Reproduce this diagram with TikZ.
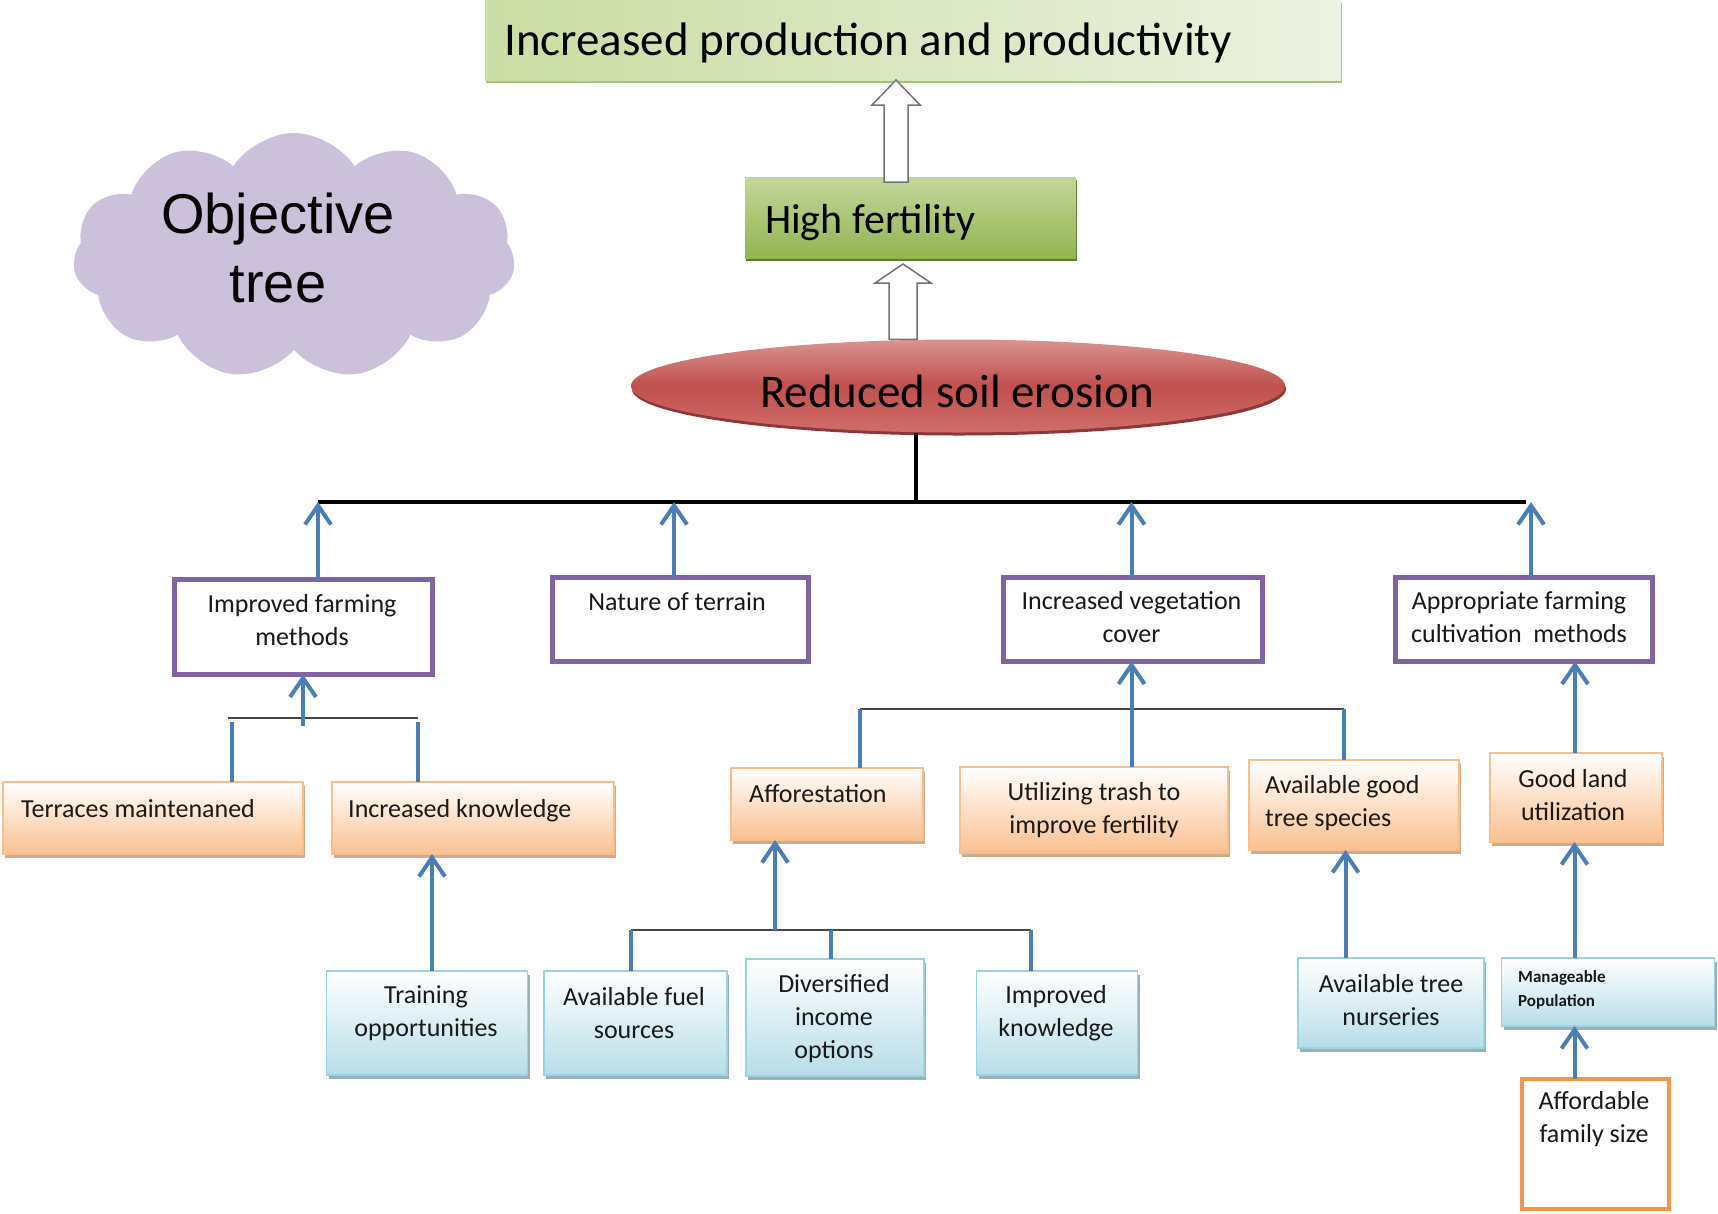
\documentclass[tikz,border=0pt]{standalone}
\usepackage{fontspec}
\setmainfont{Carlito}
\newfontfamily\cloudfont{Liberation Sans}
\usetikzlibrary{shapes.geometric,shapes.symbols,arrows.meta,shadows,calc}
\definecolor{purp}{HTML}{8064A2}
\definecolor{bluel}{HTML}{4A7EBB}
\definecolor{orfill}{HTML}{FAC090}
\definecolor{orbd}{HTML}{F9BE8E}
\definecolor{orshad}{HTML}{C9A27F}
\definecolor{blfill}{HTML}{B7DDE8}
\definecolor{blbd}{HTML}{9BD3E0}
\definecolor{blshad}{HTML}{8FA9B3}
\definecolor{lav}{HTML}{CCC1DA}
\definecolor{tgA}{HTML}{CADDA3}
\definecolor{tgB}{HTML}{ECF2E1}
\definecolor{tgS}{HTML}{A9C47A}
\definecolor{hfA}{HTML}{C3D79C}
\definecolor{hfB}{HTML}{93B44F}
\definecolor{hfS}{HTML}{5E7A2E}
\definecolor{elA}{HTML}{DA9391}
\definecolor{elM}{HTML}{C0504D}
\definecolor{elB}{HTML}{CF6E6B}
\definecolor{elS}{HTML}{8C3836}
\definecolor{afbd}{HTML}{F79646}
\begin{document}
\begin{tikzpicture}[x=1pt,y=-1pt,
  box/.style={rectangle, inner sep=0pt, outer sep=0pt},
  purplebox/.style={box, draw=purp, line width=4.5pt, fill=white},
  orangebox/.style={box, draw=orbd, line width=1.2pt, top color=white, bottom color=orfill,
     drop shadow={shadow xshift=2pt, shadow yshift=-4pt, fill=orshad, opacity=0.9}},
  bluebox/.style={box, draw=blbd, line width=1.2pt, top color=white, bottom color=blfill,
     drop shadow={shadow xshift=2pt, shadow yshift=-4pt, fill=blshad, opacity=0.9}},
  lbl/.style={inner sep=0pt, font=\fontsize{26}{33}\selectfont, align=center, text=black!90},
  bluearr/.style={draw=bluel, line width=4pt, -{Straight Barb[length=19pt,width=26pt]}},
  blueln/.style={draw=bluel, line width=4pt},
  graybar/.style={draw=black!72, line width=2.5pt},
  blackbar/.style={draw=black, line width=4.5pt},
  hollowarr/.style={draw=black!55, line width=1.5pt, fill=white, line join=miter}
]
\useasboundingbox (0,0) rectangle (1718,1213);

% ---------- top part ----------
\node[box, minimum width=856pt, minimum height=80pt, left color=tgA, right color=tgB,
      drop shadow={shadow xshift=1pt, shadow yshift=-3pt, fill=tgS, opacity=1}] (top) at (913,40) {};
\node[inner sep=0pt, anchor=base west, font=\fontsize{47}{56}\selectfont] (topt) at (504,55)
  {Increased production and productivity};

\node[box, minimum width=331pt, minimum height=81pt, top color=hfA, bottom color=hfB,
      drop shadow={shadow xshift=1pt, shadow yshift=-3pt, fill=hfS, opacity=1}] (hf) at (910.5,217.5) {};
\node[inner sep=0pt, anchor=base west, font=\fontsize{42}{50}\selectfont] (hft) at (765,233) {High fertility};

\node[ellipse, inner sep=0pt, minimum width=654pt, minimum height=93pt,
      top color=elA, bottom color=elB, middle color=elM,
      drop shadow={shadow xshift=1pt, shadow yshift=-3pt, fill=elS, opacity=1}] (ell) at (958,386) {};
\node[inner sep=0pt, anchor=base, font=\fontsize{47}{56}\selectfont] (ellt) at (957,407) {Reduced soil erosion};

\node[cloud, cloud puffs=11, cloud puff arc=115, aspect=1.75, fill=lav, draw=none,
      minimum width=442pt, minimum height=246pt, inner sep=0pt] (cloud) at (294,256) {};
\node[inner sep=0pt, align=center, font=\cloudfont\fontsize{56}{69}\selectfont] (cloudt) at (278,248) {Objective\\tree};

% hollow arrows
\coordinate (h1tip) at (top.south -| 896,0);
\coordinate (h1bot) at (hf.north -| 896,0);
\draw[hollowarr] ($(h1bot)+(-12,5)$) -- ($(h1tip)+(-12,25)$) -- ($(h1tip)+(-24,25)$) -- (h1tip)
  -- ($(h1tip)+(24,25)$) -- ($(h1tip)+(12,25)$) -- ($(h1bot)+(12,5)$) -- cycle;
\coordinate (h2tip) at ($(hf.south -| 903,0)+(0,6)$);
\coordinate (h2bot) at (ell.north -| 903,0);
\draw[hollowarr] ($(h2bot)+(-14,0)$) -- ($(h2tip)+(-14,19)$) -- ($(h2tip)+(-28,19)$) -- (h2tip)
  -- ($(h2tip)+(28,19)$) -- ($(h2tip)+(14,19)$) -- ($(h2bot)+(14,0)$) -- cycle;

% ---------- purple boxes ----------
\node[purplebox, minimum width=258pt, minimum height=95pt] (p1) at (303.5,627) {};
\node[purplebox, minimum width=256pt, minimum height=84pt] (p2) at (680.5,619.5) {};
\node[purplebox, minimum width=259pt, minimum height=84pt] (p3) at (1133,619.5) {};
\node[purplebox, minimum width=257pt, minimum height=84pt] (p4) at (1524,619.5) {};
\node[lbl] (p1t) at (302,620.5) {Improved farming\\methods};
\node[lbl, anchor=base] (p2t) at (677,610) {Nature of terrain};
\node[lbl] (p3t) at (1131.5,617.5) {Increased vegetation\\cover};
\node[lbl] (p4t) at (1519,617.5) {Appropriate farming\\cultivation\ \ methods};

% ---------- orange boxes ----------
\node[orangebox, minimum width=300pt, minimum height=72pt] (o1) at (153,818) {};
\node[orangebox, minimum width=282pt, minimum height=72pt] (o2) at (473,818) {};
\node[orangebox, minimum width=192pt, minimum height=72pt] (o3) at (827,804) {};
\node[orangebox, minimum width=268pt, minimum height=86pt] (o4) at (1094,810) {};
\node[orangebox, minimum width=210pt, minimum height=90pt] (o5) at (1354,805) {};
\node[orangebox, minimum width=172pt, minimum height=89pt] (o6) at (1576,797.5) {};
\node[lbl, anchor=base west] (o1t) at (21,817) {Terraces maintenaned};
\node[lbl, anchor=base west] (o2t) at (348,817) {Increased knowledge};
\node[lbl, anchor=base west] (o3t) at (749,802) {Afforestation};
\node[lbl] (o4t) at (1094,810) {Utilizing trash to\\improve fertility};
\node[lbl, align=left, anchor=west] (o5t) at (1265,803.5) {Available good\\tree species};
\node[lbl] (o6t) at (1573,795.5) {Good land\\utilization};

% ---------- blue boxes ----------
\node[bluebox, minimum width=201pt, minimum height=104pt] (b1) at (427,1023) {};
\node[bluebox, minimum width=183pt, minimum height=104pt] (b2) at (635.5,1023) {};
\node[bluebox, minimum width=178pt, minimum height=117pt] (b3) at (835,1017.5) {};
\node[bluebox, minimum width=161pt, minimum height=104pt] (b4) at (1057,1023) {};
\node[bluebox, minimum width=186pt, minimum height=90pt] (b5) at (1391,1003) {};
\node[bluebox, minimum width=213pt, minimum height=68pt] (b6) at (1608,992) {};
\node[lbl] (b1t) at (426,1013.5) {Training\\opportunities};
\node[lbl] (b2t) at (634,1013.5) {Available fuel\\sources};
\node[lbl] (b3t) at (834,1018.5) {Diversified\\income\\options};
\node[lbl] (b4t) at (1056,1013.5) {Improved\\knowledge};
\node[lbl] (b5t) at (1391,1000.5) {Available tree\\nurseries};
\node[lbl, align=left, anchor=west, font=\bfseries\fontsize{17}{24}\selectfont] (b6t) at (1518,990) {Manageable\\Population};

\node[box, draw=afbd, line width=4pt, fill=white, minimum width=147pt, minimum height=130pt] (af) at (1595.5,1144) {};
\node[lbl] (aft) at (1594,1119.5) {Affordable\\family size};

% ---------- connectors ----------
\coordinate (barL) at (318,502);
\coordinate (barR) at (1526,502);
\coordinate (stem) at (916,502);
\coordinate (a2) at (674,502);
\coordinate (a3) at (1131.5,502);
\coordinate (a4) at (1531,502);
\draw[blackbar] (ell.south -| stem) -- (stem);
\draw[blackbar] (barL) -- (barR);
\draw[bluearr] (p1.north -| barL) -- (barL);
\draw[bluearr] (p2.north -| a2) -- (a2);
\draw[bluearr] (p3.north -| a3) -- (a3);
\draw[bluearr] (p4.north -| a4) -- (a4);

% left group
\coordinate (jLa) at (228,718);
\coordinate (jLb) at (418,718);
\coordinate (jL) at (303,726);
\draw[graybar] (jLa) -- (jLb);
\draw[blueln] (o1.north -| 231.5,0) -- (231.5,722);
\draw[blueln] (o2.north -| jLb) -- ($(jLb)+(0,4)$);
\draw[bluearr] (jL) -- (p1.south -| jL);

% vegetation group
\coordinate (jVa) at (860,709);
\coordinate (jVb) at (1344,709);
\draw[graybar] (jVa) -- (jVb);
\draw[blueln] (o3.north -| jVa) -- (jVa);
\draw[blueln] (o5.north -| jVb) -- (jVb);
\draw[bluearr] (o4.north -| a3) -- (p3.south -| a3);
\coordinate (a6) at (1575,0);
\draw[bluearr] (o6.north -| a6) -- (p4.south -| a6);

% afforestation group
\coordinate (jFa) at (631,930);
\coordinate (jFb) at (1031,930);
\coordinate (jFm) at (831,930);
\coordinate (jF) at (775,930);
\draw[graybar] (jFa) -- (jFb);
\draw[blueln] (b2.north -| jFa) -- (jFa);
\draw[blueln] (b3.north -| jFm) -- (jFm);
\draw[blueln] (b4.north -| jFb) -- (jFb);
\draw[bluearr] (jF) -- (o3.south -| jF);

% single arrows
\coordinate (a1) at (432,0);
\draw[bluearr] (b1.north -| a1) -- (o2.south -| a1);
\coordinate (a5) at (1345.5,0);
\draw[bluearr] (b5.north -| a5) -- (o5.south -| a5);
\coordinate (a7) at (1574.5,0);
\draw[bluearr] (b6.north -| a7) -- (o6.south -| a7);
\draw[bluearr] (af.north -| a7) -- (b6.south -| a7);
\end{tikzpicture}
\end{document}
